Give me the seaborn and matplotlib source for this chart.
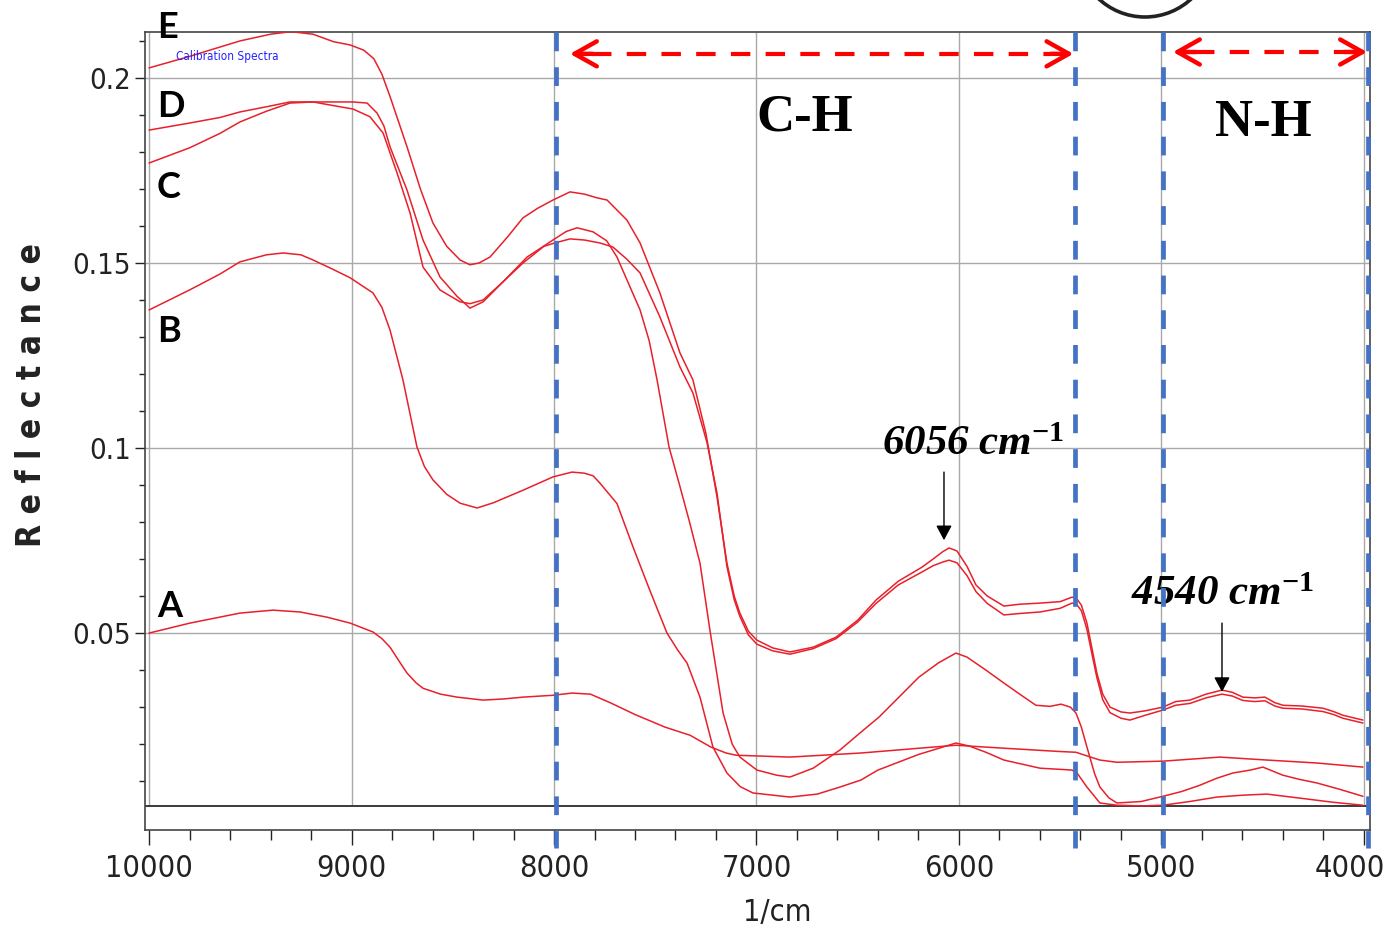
import matplotlib
matplotlib.use("Agg")
import matplotlib.pyplot as plt
from matplotlib import font_manager
from matplotlib.font_manager import FontProperties
from matplotlib.patches import Ellipse
from matplotlib.ticker import FixedLocator
from matplotlib.transforms import ScaledTranslation
import pandas as pd
import seaborn as sns

wn_e = [10000, 9800, 9700, 9550, 9400, 9300, 9190, 9090, 9007, 8940, 8890, 8850, 8810, 8726, 8660,
        8598, 8530, 8464, 8415, 8370, 8316, 8230, 8153, 8080, 8005, 7921, 7850, 7788, 7738,
        7640, 7575, 7477, 7378, 7314, 7250, 7195, 7146, 7110, 7082, 7040, 6998, 6920, 6835,
        6720, 6607, 6500, 6410, 6300, 6183, 6128, 6080, 6049, 6010, 5960, 5916, 5860, 5778,
        5700, 5600, 5500, 5442, 5420, 5395, 5368, 5340, 5319, 5290, 5254, 5200, 5156, 5080,
        4993, 4930, 4859, 4780, 4701, 4650, 4598, 4540, 4489, 4440, 4400, 4306, 4202, 4150,
        4104, 4005]
refl_e = [0.2027, 0.2058, 0.2075, 0.2100, 0.2118, 0.2125, 0.2118, 0.2098, 0.2089, 0.2075, 0.2052,
          0.2010, 0.1950, 0.1814, 0.1700, 0.1608, 0.1545, 0.1508, 0.1495, 0.1500, 0.1516, 0.1570,
          0.1622, 0.1648, 0.1670, 0.1692, 0.1686, 0.1676, 0.1670, 0.1616, 0.1554, 0.1419, 0.1257,
          0.1184, 0.1040, 0.0868, 0.0689, 0.0600, 0.0554, 0.0505, 0.0481, 0.0460, 0.0449, 0.0462,
          0.0489, 0.0535, 0.0589, 0.0640, 0.0678, 0.0700, 0.0720, 0.0730, 0.0722, 0.0680, 0.0630,
          0.0600, 0.0573, 0.0578, 0.0581, 0.0585, 0.0597, 0.0594, 0.0575, 0.0527, 0.0450, 0.0392,
          0.0335, 0.0300, 0.0287, 0.0284, 0.0290, 0.0300, 0.0315, 0.0319, 0.0335, 0.0346, 0.0340,
          0.0327, 0.0325, 0.0327, 0.0312, 0.0305, 0.0303, 0.0297, 0.0288, 0.0278, 0.0265]

wn_d = [10000, 9800, 9650, 9551, 9420, 9304, 9190, 9057, 8993, 8909, 8844, 8775, 8711, 8647,
        8563, 8464, 8415, 8350, 8250, 8153, 8050, 7990, 7921, 7850, 7773, 7709, 7640, 7575,
        7477, 7378, 7314, 7244, 7195, 7146, 7110, 7082, 7040, 6998, 6920, 6835, 6720, 6607,
        6500, 6410, 6300, 6183, 6128, 6080, 6049, 6010, 5960, 5916, 5860, 5778, 5700, 5600,
        5500, 5442, 5420, 5395, 5368, 5340, 5319, 5290, 5254, 5200, 5156, 5080, 4993, 4930,
        4859, 4780, 4701, 4650, 4598, 4540, 4489, 4440, 4400, 4306, 4202, 4150, 4104, 4005]
refl_d = [0.1859, 0.1878, 0.1893, 0.1908, 0.1922, 0.1935, 0.1935, 0.1922, 0.1916, 0.1895, 0.1851,
          0.1743, 0.1635, 0.1489, 0.1427, 0.1395, 0.1390, 0.1400, 0.1450, 0.1500, 0.1545, 0.1555,
          0.1565, 0.1562, 0.1554, 0.1543, 0.1510, 0.1473, 0.1354, 0.1219, 0.1149, 0.1014, 0.0878,
          0.0680, 0.0590, 0.0545, 0.0495, 0.0470, 0.0452, 0.0443, 0.0458, 0.0485, 0.0530, 0.0580,
          0.0630, 0.0665, 0.0682, 0.0692, 0.0697, 0.0690, 0.0655, 0.0612, 0.0580, 0.0549, 0.0553,
          0.0557, 0.0567, 0.0581, 0.0578, 0.0560, 0.0510, 0.0435, 0.0380, 0.0320, 0.0285, 0.0270,
          0.0265, 0.0278, 0.0292, 0.0305, 0.0310, 0.0325, 0.0335, 0.0330, 0.0318, 0.0315, 0.0317,
          0.0303, 0.0297, 0.0295, 0.0288, 0.0280, 0.0270, 0.0257]

wn_c = [10000, 9800, 9650, 9551, 9420, 9304, 9190, 9057, 8993, 8923, 8874, 8840, 8810, 8726,
        8647, 8563, 8479, 8415, 8350, 8250, 8133, 8005, 7940, 7886, 7807, 7740, 7689, 7575,
        7530, 7491, 7432, 7380, 7333, 7279, 7230, 7165, 7120, 7082, 6998, 6900, 6835, 6720,
        6588, 6500, 6395, 6300, 6198, 6100, 6015, 5960, 5867, 5778, 5700, 5620, 5550, 5496,
        5450, 5422, 5395, 5368, 5330, 5304, 5260, 5220, 5100, 4993, 4900, 4810, 4726, 4647,
        4560, 4499, 4450, 4400, 4320, 4232, 4120, 4005]
refl_c = [0.1770, 0.1811, 0.1850, 0.1881, 0.1910, 0.1932, 0.1935, 0.1935, 0.1935, 0.1932, 0.1905,
          0.1870, 0.1814, 0.1697, 0.1562, 0.1462, 0.1410, 0.1378, 0.1395, 0.1450, 0.1516, 0.1562,
          0.1585, 0.1595, 0.1584, 0.1560, 0.1516, 0.1373, 0.1290, 0.1184, 0.1003, 0.0900, 0.0805,
          0.0689, 0.0508, 0.0284, 0.0200, 0.0165, 0.0130, 0.0116, 0.0111, 0.0135, 0.0184, 0.0225,
          0.0273, 0.0325, 0.0381, 0.0420, 0.0446, 0.0435, 0.0400, 0.0365, 0.0335, 0.0305, 0.0302,
          0.0308, 0.0300, 0.0284, 0.0245, 0.0192, 0.0120, 0.0084, 0.0055, 0.0041, 0.0045, 0.0059,
          0.0072, 0.0089, 0.0108, 0.0122, 0.0130, 0.0138, 0.0127, 0.0116, 0.0105, 0.0095, 0.0078,
          0.0059]

wn_b = [10000, 9800, 9650, 9551, 9420, 9338, 9250, 9190, 9100, 9007, 8894, 8850, 8810, 8746,
        8677, 8640, 8598, 8530, 8464, 8380, 8300, 8153, 8005, 7911, 7850, 7807, 7773, 7689,
        7610, 7530, 7442, 7390, 7343, 7279, 7215, 7146, 7080, 7017, 6835, 6700, 6588, 6484,
        6400, 6200, 6015, 5950, 5867, 5778, 5600, 5442, 5417, 5368, 5304, 5220, 5100, 4993,
        4860, 4726, 4600, 4479, 4300, 4153, 4005]
refl_b = [0.1373, 0.1427, 0.1470, 0.1503, 0.1522, 0.1527, 0.1522, 0.1508, 0.1485, 0.1460, 0.1419,
          0.1380, 0.1319, 0.1184, 0.1003, 0.0950, 0.0914, 0.0875, 0.0851, 0.0838, 0.0852, 0.0886,
          0.0922, 0.0935, 0.0932, 0.0925, 0.0905, 0.0850, 0.0733, 0.0620, 0.0500, 0.0455, 0.0419,
          0.0327, 0.0192, 0.0122, 0.0085, 0.0068, 0.0057, 0.0065, 0.0084, 0.0103, 0.0130, 0.0172,
          0.0203, 0.0195, 0.0178, 0.0157, 0.0135, 0.0130, 0.0122, 0.0084, 0.0041, 0.0035, 0.0033,
          0.0035, 0.0045, 0.0057, 0.0062, 0.0065, 0.0053, 0.0043, 0.0035]

wn_a = [10000, 9798, 9551, 9388, 9254, 9121, 9007, 8894, 8850, 8810, 8760, 8726, 8680, 8647,
        8560, 8479, 8351, 8250, 8153, 8005, 7911, 7820, 7719, 7600, 7452, 7328, 7225, 7150,
        7101, 6835, 6484, 6128, 6015, 5778, 5500, 5422, 5350, 5304, 5220, 4993, 4711, 4479,
        4232, 4005]
refl_a = [0.0500, 0.0527, 0.0554, 0.0562, 0.0557, 0.0543, 0.0527, 0.0503, 0.0485, 0.0462, 0.0420,
          0.0392, 0.0365, 0.0351, 0.0335, 0.0327, 0.0319, 0.0322, 0.0327, 0.0332, 0.0338, 0.0335,
          0.0311, 0.0280, 0.0246, 0.0224, 0.0192, 0.0176, 0.0170, 0.0165, 0.0176, 0.0192, 0.0197,
          0.0189, 0.0180, 0.0178, 0.0165, 0.0157, 0.0151, 0.0154, 0.0165, 0.0157, 0.0149, 0.0138]

samples = ["E", "D", "C", "B", "A"]
x_ticks = [10000, 9000, 8000, 7000, 6000, 5000, 4000]
y_ticks = [0.05, 0.1, 0.15, 0.2]
y_tick_labels = ["0.05", "0.1", "0.15", "0.2"]
band_edges = [7990, 5427, 4993, 3980]

spectra = pd.concat([
    pd.DataFrame({"wavenumber": w, "reflectance": r, "sample": s})
    for s, w, r in zip(samples, [wn_e, wn_d, wn_c, wn_b, wn_a],
                       [refl_e, refl_d, refl_c, refl_b, refl_a])
])

sns.set_theme(style="white")
plt.rcParams["font.family"] = ["Liberation Sans", "DejaVu Sans"]
plt.rcParams["lines.scale_dashes"] = False
plt.rcParams["mathtext.fontset"] = "custom"
plt.rcParams["mathtext.it"] = "Liberation Serif:italic:bold"
plt.rcParams["mathtext.rm"] = "Liberation Serif:bold"
plt.rcParams["mathtext.default"] = "it"

# the instrument software used a narrow sans; take a condensed face if one is installed
narrow_family, narrow_stretch = "Liberation Sans", "normal"
condensed = {(f.name, f.stretch) for f in font_manager.fontManager.ttflist
             if str(f.stretch) in ("condensed", "semi-condensed", "extra-condensed")
             and f.style == "normal"}
for fam in ["Liberation Sans Narrow", "DejaVu Sans", "Noto Sans", "Open Sans", "Roboto"]:
    hits = [s for n, s in condensed if n == fam]
    if hits:
        narrow_family, narrow_stretch = fam, hits[0]
        break


def narrow(size, weight="normal"):
    return FontProperties(family=narrow_family, stretch=narrow_stretch, size=size, weight=weight)


fig = plt.figure(figsize=(13.88, 9.31), dpi=100)
ax = fig.add_axes([145 / 1388, 101 / 931, 1225 / 1388, 798 / 931])
ax.set_xlim(10020, 3970)
ax.set_ylim(-0.0032, 0.2124)

# grid drawn by hand: vertical lines stop at the baseline
ax.hlines(y_ticks, 10020, 3970, color="#a9a9a9", lw=1.0, zorder=0)
ax.vlines(x_ticks, 0.0032, 0.2124, color="#a9a9a9", lw=1.0, zorder=0)
ax.axhline(0.0032, color="#3a3a3a", lw=1.4, zorder=1)

sns.lineplot(data=spectra, x="wavenumber", y="reflectance", hue="sample", estimator=None,
             sort=False, palette=["#e8202a"] * 5, lw=1.1, legend=False, ax=ax, zorder=3)

# band limits
for x in band_edges:
    ax.plot([x, x], [0.2124, -0.0080], color="#4472c4", lw=3.4, dashes=(13.5, 11.5),
            clip_on=False, zorder=4)


def double_arrow(x0, x1, y):
    ax.plot([x0 - 110, x1 + 110], [y, y], color="red", lw=3.0, dashes=(14, 11),
            dash_capstyle="butt", zorder=5, clip_on=False)
    for tip, tail in ((x0, x0 - 110), (x1, x1 + 110)):
        ax.annotate("", xy=(tip, y), xytext=(tail, y), annotation_clip=False,
                    arrowprops=dict(arrowstyle="->,head_length=0.8,head_width=0.45",
                                    color="red", lw=3.2, mutation_scale=20,
                                    shrinkA=0, shrinkB=0))


double_arrow(7921, 5435, 0.2065)
double_arrow(4943, 3985, 0.2070)

serif_b = dict(family="Liberation Serif", weight="bold", color="black")
ax.text(6760, 0.1859, "C-H", ha="center", va="baseline", fontsize=38, **serif_b)
ax.text(4499, 0.1843, "N-H", ha="center", va="baseline", fontsize=38, **serif_b)
ax.text(5931, 0.0981, r"6056 cm$^{-1}$", ha="center", va="baseline", fontsize=31,
        style="italic", **serif_b)
ax.text(4701, 0.0576, r"4540 cm$^{-1}$", ha="center", va="baseline", fontsize=31,
        style="italic", **serif_b)

peak_arrow = dict(arrowstyle="-|>,head_length=0.75,head_width=0.4", color="black",
                  lw=1.0, mutation_scale=12, shrinkA=0, shrinkB=0)
ax.annotate("", xy=(6074, 0.0751), xytext=(6074, 0.0935), arrowprops=peak_arrow)
ax.annotate("", xy=(4701, 0.0341), xytext=(4701, 0.0527), arrowprops=peak_arrow)

# sample letters
label_font = dict(family=["Lato", "DejaVu Sans"], weight="bold", fontsize=26, color="black",
                  ha="left", va="center", clip_on=False)
for s, y in zip(samples, [0.2135, 0.1924, 0.1703, 0.1316, 0.0573]):
    ax.text(9962, y, s, **label_font)
ax.text(9867, 0.2057, "Calibration Spectra", color="#2323ff", fontproperties=narrow(8.5),
        va="center")

ax.set_xticks(x_ticks)
ax.set_xticklabels([str(t) for t in x_ticks])
ax.xaxis.set_minor_locator(FixedLocator([v for v in range(4000, 10001, 200) if v % 1000]))
ax.set_yticks(y_ticks)
ax.set_yticklabels(y_tick_labels)
ax.yaxis.set_minor_locator(FixedLocator([i / 100 for i in range(1, 22) if i % 5]))
ax.tick_params(axis="x", which="major", direction="out", length=11, width=1.0, pad=6,
               colors="#222222", bottom=True)
ax.tick_params(axis="x", which="minor", direction="out", length=7, width=1.0, bottom=True,
               colors="#222222")
ax.tick_params(axis="y", which="major", direction="out", length=7, width=1.0, pad=3,
               colors="#222222", left=True)
ax.tick_params(axis="y", which="minor", direction="out", length=4, width=1.0, left=True,
               colors="#222222")
for lbl in ax.get_xticklabels():
    lbl.set_fontproperties(narrow(22))
for lbl in ax.get_yticklabels():
    lbl.set_fontproperties(narrow(21))
# keep the last x label inside the figure, as in the original
last = ax.get_xticklabels()[-1]
last.set_horizontalalignment("right")
last.set_transform(last.get_transform() + ScaledTranslation(0.21, 0, fig.dpi_scale_trans))

for sp in ax.spines.values():
    sp.set_color("#444444")
    sp.set_linewidth(1.2)
ax.set_xlabel("")
ax.set_ylabel("")

fig.text(32 / 1388, 1 - 395 / 931, "R e f l e c t a n c e", rotation=90, ha="center",
         va="center", fontproperties=narrow(24, "bold"), color="#222222")
fig.text(777 / 1388, 1 - 913 / 931, "1/cm", ha="center", va="center",
         fontproperties=narrow(22), color="#222222")

# partial circle cut by the top edge
fig.add_artist(Ellipse((1145 / 1388, 1 + 51 / 931), 136 / 1388, 136 / 931,
                       transform=fig.transFigure, fill=False, lw=2.6, ec="#222222",
                       clip_on=False))

fig.savefig("out.png", dpi=100)
